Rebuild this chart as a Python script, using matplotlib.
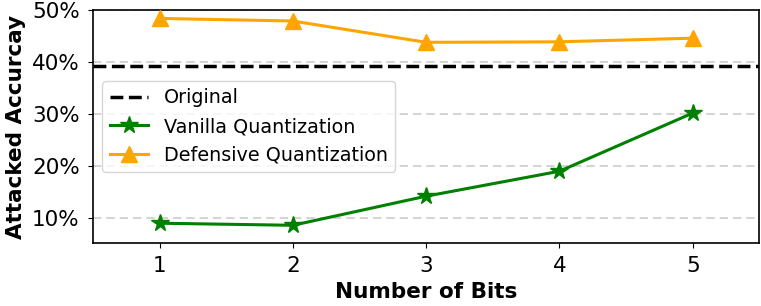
import matplotlib
matplotlib.use("Agg")
import matplotlib.pyplot as plt
from matplotlib.ticker import FuncFormatter

# ── Data ──────────────────────────────────────────────────────
bits      = [1, 2, 3, 4, 5]
vanilla   = [9.0, 8.6, 14.2, 19.0, 30.2]
defensive = [48.4, 47.9, 43.8, 43.9, 44.6]
original  = 39.3

fig = plt.figure(figsize=(7.61, 3.06), dpi=100)
ax = fig.add_axes([0.122, 0.206, 0.876, 0.761])

ax.axhline(original, color="black", linestyle="--", linewidth=2.5,
           label="Original", zorder=3)
ax.plot(bits, vanilla, color="green", marker="*", markersize=13,
        linewidth=2.2, label="Vanilla Quantization", zorder=4)
ax.plot(bits, defensive, color="orange", marker="^", markersize=12,
        linewidth=2.2, label="Defensive Quantization", zorder=4)

ax.set_xlim(0.5, 5.5)
ax.set_ylim(5.2, 50)
ax.set_xticks(bits)
ax.set_yticks([10, 20, 30, 40, 50])
ax.yaxis.set_major_formatter(FuncFormatter(lambda v, _: f"{v:.0f}%"))
ax.grid(axis="y", color="#cccccc", linestyle=(0, (5, 3)), linewidth=1.2)
ax.set_axisbelow(True)
ax.tick_params(labelsize=15.5)
ax.tick_params(axis="y", pad=6)
ax.tick_params(axis="x", pad=6)
for spine in ax.spines.values():
    spine.set_linewidth(1.2)

ax.set_xlabel("Number of Bits", fontsize=15.5, fontweight="bold", labelpad=4)
ax.set_ylabel("Attacked Accurcay", fontsize=15.5, fontweight="bold", labelpad=4)

ax.legend(loc="center left", bbox_to_anchor=(0.0, 0.5), fontsize=13.8,
          handlelength=2.0)

fig.savefig("out.png", dpi=100)
